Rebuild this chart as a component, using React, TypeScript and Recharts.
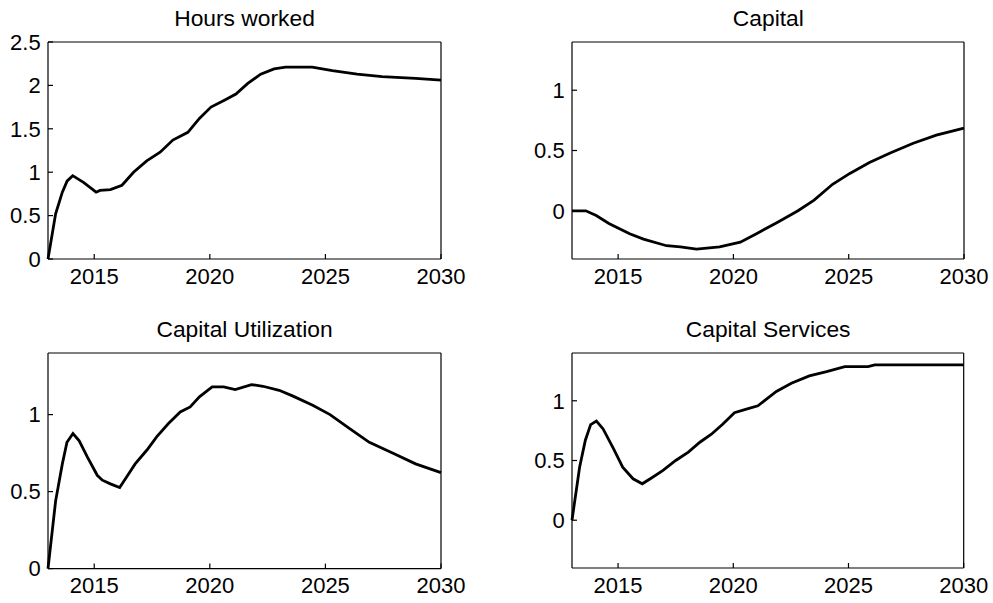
import React from 'react'
import { LineChart, Line, XAxis, YAxis } from 'recharts'

const FONT = '"Liberation Sans", Arial, Helvetica, sans-serif'

const xTicks = [2015, 2020, 2025, 2030]

// Hours worked
const hoursYears = [
  2013.0, 2013.33, 2013.62, 2013.83, 2014.07, 2014.55, 2015.08, 2015.25, 2015.7, 2016.2,
  2016.7, 2017.27, 2017.85, 2018.4, 2019.05, 2019.55, 2020.05, 2020.63, 2021.13, 2021.63,
  2022.2, 2022.78, 2023.28, 2024.43, 2025.3, 2026.37, 2027.45, 2028.9, 2030.0,
]
const hoursValues = [
  0, 0.52, 0.77, 0.9, 0.96, 0.88, 0.77, 0.79, 0.8, 0.85,
  1.0, 1.13, 1.23, 1.37, 1.46, 1.62, 1.75, 1.83, 1.9, 2.02,
  2.13, 2.19, 2.21, 2.21, 2.17, 2.13, 2.1, 2.08, 2.06,
]

// Capital
const capitalYears = [
  2013.0, 2013.6, 2014.05, 2014.6, 2015.5, 2016.1, 2017.1, 2017.7, 2018.4, 2019.4,
  2020.3, 2021.0, 2021.9, 2022.8, 2023.5, 2024.3, 2025.05, 2025.9, 2026.8, 2027.8,
  2028.8, 2030.0,
]
const capitalValues = [
  0, 0, -0.04, -0.105, -0.19, -0.235, -0.29, -0.3, -0.318, -0.3,
  -0.26, -0.19, -0.097, 0, 0.088, 0.22, 0.31, 0.4, 0.48, 0.56,
  0.627, 0.685,
]

// Capital Utilization
const utilYears = [
  2013.0, 2013.33, 2013.62, 2013.82, 2014.08, 2014.35, 2014.7, 2015.13, 2015.35, 2015.7,
  2016.1, 2016.4, 2016.77, 2017.28, 2017.7, 2018.2, 2018.72, 2019.15, 2019.55, 2020.1,
  2020.6, 2021.1, 2021.8, 2022.3, 2023.0, 2023.6, 2024.45, 2025.2, 2026.05, 2026.9,
  2027.95, 2028.9, 2030.0,
]
const utilValues = [
  0, 0.44, 0.68, 0.82, 0.877, 0.83, 0.725, 0.606, 0.574, 0.55,
  0.526, 0.595, 0.68, 0.77, 0.855, 0.94, 1.017, 1.05, 1.115, 1.18,
  1.18, 1.162, 1.195, 1.184, 1.158, 1.12, 1.06, 1.0, 0.909, 0.82,
  0.747, 0.68, 0.623,
]

// Capital Services
const servicesYears = [
  2013.0, 2013.33, 2013.58, 2013.81, 2014.06, 2014.35, 2014.8, 2015.2, 2015.65, 2016.05,
  2016.5, 2016.95, 2017.5, 2018.05, 2018.55, 2019.05, 2019.55, 2020.05, 2020.57, 2021.07,
  2021.44, 2021.87, 2022.52, 2023.3, 2024.05, 2024.84, 2025.85, 2026.14, 2030.0,
]
const servicesValues = [
  0, 0.444, 0.67, 0.8, 0.83, 0.764, 0.6, 0.444, 0.347, 0.305,
  0.36, 0.417, 0.5, 0.57, 0.653, 0.72, 0.805, 0.9, 0.93, 0.958,
  1.014, 1.078, 1.147, 1.208, 1.244, 1.286, 1.286, 1.3, 1.3,
]

interface PanelProps {
  title: string
  px: number
  py: number
  w: number
  h: number
  years: number[]
  values: number[]
  yDomain: [number, number]
  yTicks: number[]
}

const tickStyle = { fontSize: 22, fill: '#000', fontFamily: FONT }
const frame = { stroke: '#000', strokeWidth: 1.2 }

function Panel({ title, px, py, w, h, years, values, yDomain, yTicks }: PanelProps) {
  const data = years.map((year, i) => ({ year, value: values[i] }))
  const chartW = 48 + w + 55
  const chartH = 42 + h + 45
  return (
    <>
      <div
        style={{
          position: 'absolute',
          left: px,
          top: py - 35,
          width: w,
          textAlign: 'center',
          fontFamily: FONT,
          fontSize: 22.8,
          lineHeight: '22px',
          color: '#000',
        }}
      >
        {title}
      </div>
      <div style={{ position: 'absolute', left: px - 48, top: py - 42 }}>
        <LineChart
          width={chartW}
          height={chartH}
          data={data}
          margin={{ top: 41, right: 54, bottom: 0, left: 0 }}
        >
          <XAxis
            xAxisId="bottom"
            dataKey="year"
            type="number"
            domain={[2013, 2030]}
            ticks={xTicks}
            interval={0}
            height={45}
            tickSize={-5}
            tickMargin={14}
            tick={tickStyle}
            axisLine={frame}
            tickLine={frame}
          />
          <XAxis
            xAxisId="top"
            orientation="top"
            dataKey="year"
            type="number"
            domain={[2013, 2030]}
            ticks={xTicks}
            interval={0}
            height={1}
            tickSize={-5}
            tick={false}
            axisLine={frame}
            tickLine={frame}
          />
          <YAxis
            yAxisId="left"
            type="number"
            domain={yDomain}
            ticks={yTicks}
            interval={0}
            width={48}
            tickSize={-5}
            tickMargin={12.3}
            tick={tickStyle}
            axisLine={frame}
            tickLine={frame}
          />
          <YAxis
            yAxisId="right"
            orientation="right"
            type="number"
            domain={yDomain}
            ticks={yTicks}
            interval={0}
            width={1}
            tickSize={-5}
            tick={false}
            axisLine={frame}
            tickLine={frame}
          />
          <Line
            xAxisId="bottom"
            yAxisId="left"
            type="linear"
            dataKey="value"
            stroke="#000"
            strokeWidth={2.8}
            dot={false}
            activeDot={false}
            isAnimationActive={false}
          />
        </LineChart>
      </div>
    </>
  )
}

export default function App() {
  return (
    <div
      style={{
        position: 'absolute',
        left: 0,
        top: 0,
        width: 993,
        height: 603,
        background: '#fff',
        overflow: 'hidden',
      }}
    >
      <Panel
        title="Hours worked"
        px={48}
        py={41.7}
        w={393}
        h={217}
        years={hoursYears}
        values={hoursValues}
        yDomain={[0, 2.5]}
        yTicks={[0, 0.5, 1, 1.5, 2, 2.5]}
      />
      <Panel
        title="Capital"
        px={572.3}
        py={42}
        w={392}
        h={217}
        years={capitalYears}
        values={capitalValues}
        yDomain={[-0.4, 1.4]}
        yTicks={[0, 0.5, 1]}
      />
      <Panel
        title="Capital Utilization"
        px={48}
        py={352.7}
        w={393}
        h={215.6}
        years={utilYears}
        values={utilValues}
        yDomain={[0, 1.4]}
        yTicks={[0, 0.5, 1]}
      />
      <Panel
        title="Capital Services"
        px={572.3}
        py={353.3}
        w={391.7}
        h={215}
        years={servicesYears}
        values={servicesValues}
        yDomain={[-0.4, 1.4]}
        yTicks={[0, 0.5, 1]}
      />
    </div>
  )
}
